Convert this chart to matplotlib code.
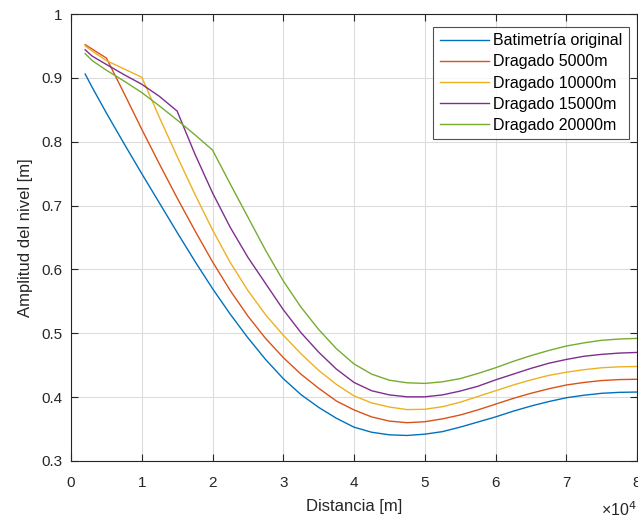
import matplotlib
matplotlib.use("Agg")
import matplotlib.pyplot as plt
from matplotlib.ticker import FuncFormatter, MultipleLocator

plt.rcParams['font.family'] = ['Liberation Sans', 'DejaVu Sans']

# Distance along the channel (m)
distance = [2000, 3000, 5000, 7500, 10000, 12500, 15000, 17500, 20000, 22500, 25000,
            27500, 30000, 32500, 35000, 37500, 40000, 42500, 45000, 47500, 50000,
            52500, 55000, 57500, 60000, 62500, 65000, 67500, 70000, 72500, 75000,
            77500, 80000]

# Amplitude of the water level (m)
amp_original = [0.906, 0.885, 0.845, 0.797, 0.750, 0.704, 0.658, 0.613, 0.570, 0.530, 0.493,
                0.459, 0.429, 0.404, 0.384, 0.367, 0.353, 0.345, 0.341, 0.340, 0.342,
                0.346, 0.353, 0.361, 0.369, 0.378, 0.386, 0.393, 0.399, 0.403, 0.406,
                0.4075, 0.408]
amp_d5000 = [0.952, 0.945, 0.931, 0.8758, 0.8195, 0.765, 0.712, 0.661, 0.612, 0.567, 0.527,
             0.492, 0.462, 0.436, 0.414, 0.394, 0.380, 0.369, 0.3625, 0.360, 0.3615,
             0.366, 0.372, 0.380, 0.389, 0.398, 0.406, 0.413, 0.419, 0.423, 0.426,
             0.4275, 0.428]
amp_d10000 = [0.950, 0.942, 0.927, 0.914, 0.901, 0.838, 0.777, 0.718, 0.662, 0.611, 0.567,
              0.529, 0.497, 0.468, 0.442, 0.420, 0.402, 0.391, 0.3845, 0.3805, 0.381,
              0.385, 0.392, 0.401, 0.410, 0.419, 0.427, 0.434, 0.439, 0.443, 0.446,
              0.4475, 0.448]
amp_d15000 = [0.944, 0.934, 0.921, 0.905, 0.890, 0.871, 0.848, 0.781, 0.720, 0.666, 0.619,
              0.578, 0.537, 0.501, 0.4705, 0.444, 0.423, 0.410, 0.4035, 0.4005, 0.4005,
              0.4035, 0.4095, 0.417, 0.427, 0.436, 0.445, 0.453, 0.459, 0.464, 0.467,
              0.469, 0.470]
amp_d20000 = [0.938, 0.927, 0.912, 0.895, 0.877, 0.856, 0.834, 0.811, 0.787, 0.734, 0.682,
              0.630, 0.582, 0.541, 0.506, 0.476, 0.452, 0.436, 0.4265, 0.4225, 0.4215,
              0.424, 0.429, 0.437, 0.446, 0.456, 0.465, 0.473, 0.480, 0.485, 0.489,
              0.491, 0.492]

labels = ['Batimetría original', 'Dragado 5000m', 'Dragado 10000m',
          'Dragado 15000m', 'Dragado 20000m']
colors = ['#0072BD', '#D95319', '#EDB120', '#7E2F8E', '#77AC30']
series = [amp_original, amp_d5000, amp_d10000, amp_d15000, amp_d20000]

fig = plt.figure(figsize=(6.38, 5.18), dpi=100)
ax = fig.add_axes([71/638, 1-461/518, (637-71)/638, (461-14)/518])

for ys, lab, c in zip(series, labels, colors):
    ax.plot(distance, ys, color=c, lw=1.0, label=lab)

ax.set_xlim(0, 80000)
ax.set_ylim(0.3, 1.0)
ax.xaxis.set_major_locator(MultipleLocator(10000))
ax.yaxis.set_major_locator(MultipleLocator(0.1))
ax.xaxis.set_major_formatter(FuncFormatter(lambda v, p: f"{v/1e4:g}"))
ax.yaxis.set_major_formatter(FuncFormatter(lambda v, p: f"{v:g}"))

tc = '#262626'
ax.grid(True, color='#dcdcdc', lw=0.8)
ax.set_axisbelow(True)
for s in ax.spines.values():
    s.set_color(tc)
    s.set_linewidth(0.8)
ax.tick_params(direction='in', length=5, width=0.8, colors=tc, labelsize=11,
               top=True, right=True)
ax.tick_params(axis='y', pad=6)
ax.tick_params(axis='x', pad=10.5)

ax.set_xlabel('Distancia [m]', fontsize=12, color=tc, labelpad=7)
ax.set_ylabel('Amplitud del nivel [m]', fontsize=12, color=tc, labelpad=6)

fig.text(637/638, 1-516/518, '×10$^4$', fontsize=11.5, color=tc, ha='right', va='baseline')

leg = ax.legend(loc='upper right', bbox_to_anchor=(628/637 * 1.0 - 0.0, 1-13/447),
                fontsize=11.5, frameon=True, fancybox=False, edgecolor=tc,
                handlelength=3.05, labelspacing=0.38, borderpad=0.4, handletextpad=0.3,
                borderaxespad=0.0)
leg.get_frame().set_linewidth(0.8)
for t in leg.get_texts():
    t.set_color('#000000')

fig.savefig('out.png', dpi=100)
